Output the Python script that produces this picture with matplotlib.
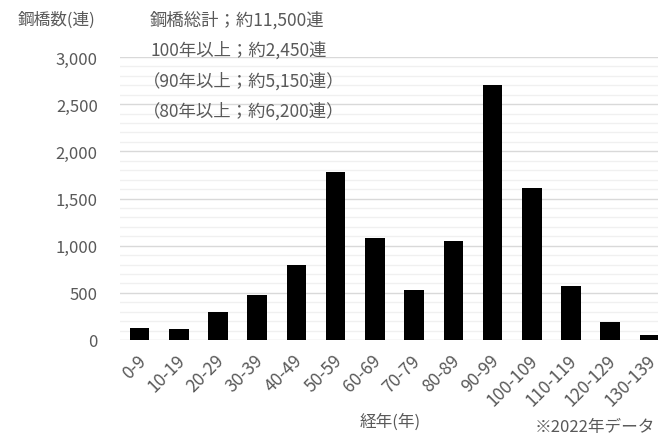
import matplotlib
matplotlib.use("Agg")
import matplotlib.pyplot as plt
import matplotlib.transforms as mtransforms
from matplotlib.ticker import MultipleLocator, FuncFormatter

plt.rcParams['font.family'] = ['Noto Sans CJK JP', 'DejaVu Sans']

# Data
age_bins = ['0-9', '10-19', '20-29', '30-39', '40-49', '50-59', '60-69',
            '70-79', '80-89', '90-99', '100-109', '110-119', '120-129', '130-139']
bridge_counts = [127, 116, 302, 482, 798, 1780, 1080, 528, 1052, 2698, 1615, 573, 190, 53]

notes = ['鋼橋総計；約11,500連',
         '100年以上；約2,450連',
         '（90年以上；約5,150連）',
         '（80年以上；約6,200連）']

TEXT = '#595959'
px = 1 / 100
fig = plt.figure(figsize=(658 * px, 439 * px), dpi=100)
ax = fig.add_axes([120 / 658, 1 - 341 / 439, 1 - 120 / 658, (341 - 58) / 439])

x = range(len(age_bins))
ax.bar(x, bridge_counts, width=0.5, color='black', zorder=3)

ax.set_ylim(0, 3000)
ax.set_xlim(-0.5, 13.22)
ax.yaxis.set_major_locator(MultipleLocator(500))
ax.yaxis.set_minor_locator(MultipleLocator(100))
ax.yaxis.set_major_formatter(FuncFormatter(lambda v, p: f'{int(v):,}'))
ax.grid(axis='y', which='major', color='#d9d9d9', linewidth=1, zorder=0)
ax.grid(axis='y', which='minor', color='#f0f0f0', linewidth=1, zorder=0)
for s in ax.spines.values():
    s.set_visible(False)
ax.tick_params(axis='both', which='both', length=0, colors=TEXT, labelsize=12)
ax.tick_params(axis='y', pad=16)

ax.set_xticks(list(x))
ax.set_xticklabels(age_bins, rotation=45, ha='right', rotation_mode='anchor',
                   fontsize=12.5)
ax.tick_params(axis='x', pad=8)
# nudge the rotated labels a little left, like the original
shift = mtransforms.ScaledTranslation(-3 / 100, 0, fig.dpi_scale_trans)
for lab in ax.get_xticklabels():
    lab.set_transform(lab.get_transform() + shift)

# texts
fig.text(18 / 658, 1 - 20 / 439, '鋼橋数(連)', color=TEXT, fontsize=12,
         va='center', ha='left')
for i, t in enumerate(notes):
    xpos = 150 / 658 if i < 2 else 143 / 658
    fig.text(xpos, 1 - (20 + i * 30.5) / 439, t, color=TEXT, fontsize=12.5,
             va='center', ha='left')

fig.text(390 / 658, 1 - 422 / 439, '経年(年)', color=TEXT, fontsize=12,
         va='center', ha='center')
fig.text(655 / 658, 1 - 428 / 439, '※2022年データ', color=TEXT, fontsize=12,
         va='center', ha='right')

fig.savefig('out.png', dpi=100)
